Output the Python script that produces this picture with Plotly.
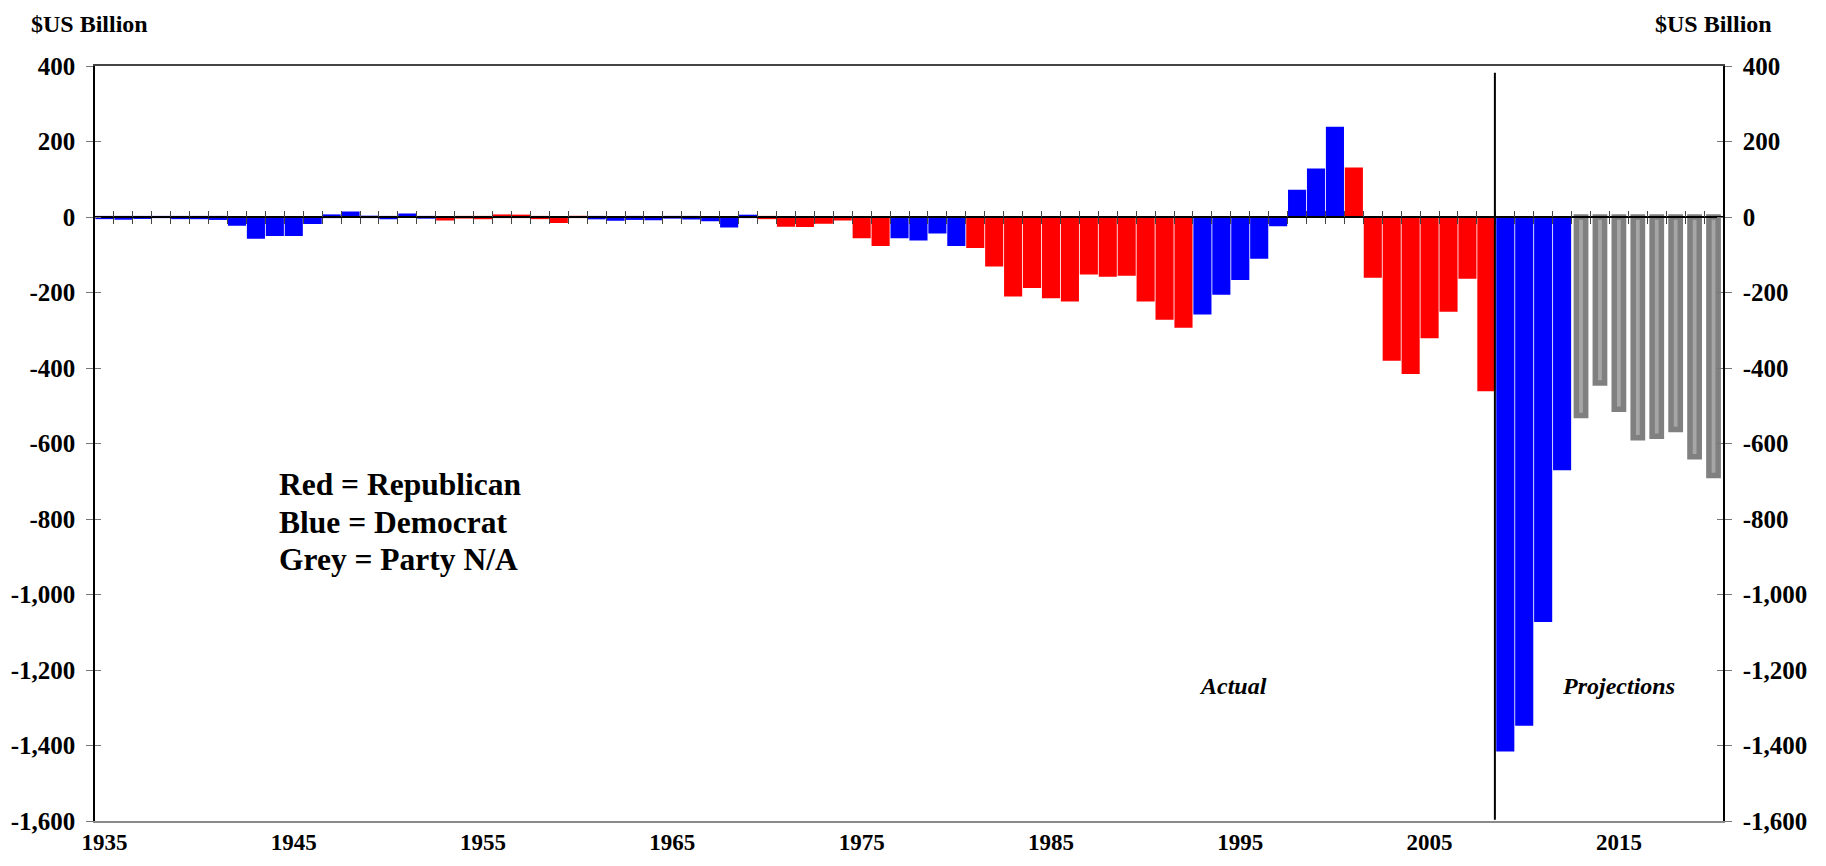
import plotly.graph_objects as go

# ---------------- data ----------------
years = list(range(1935, 2021))
balance = [
    -2.8, -4.3, -2.2, -0.1, -2.8, -2.9, -4.9, -20.5, -54.6, -47.6,      # 1935-1944
    -47.6, -15.9, 4.0, 11.8, 0.6, -3.1, 6.1, -1.5, -6.5, -1.2,          # 1945-1954
    -3.0, 3.9, 3.4, -2.8, -12.8, 0.3, -3.3, -7.1, -4.8, -5.9,           # 1955-1964
    -1.4, -3.7, -8.6, -25.2, 3.2, -2.8, -23.0, -23.4, -14.9, -6.1,      # 1965-1974
    -53.2, -73.7, -53.7, -59.2, -40.7, -73.8, -79.0, -128.0, -207.8, -185.4,  # 1975-1984
    -212.3, -221.2, -149.7, -155.2, -152.6, -221.0, -269.2, -290.3, -255.1, -203.2,  # 1985-1994
    -164.0, -107.4, -21.9, 69.3, 125.6, 236.2, 128.2, -157.8, -377.6, -412.7,  # 1995-2004
    -318.3, -248.2, -160.7, -458.6, -1412.7, -1345.0, -1070.0, -668.0, -526.0, -440.0,  # 2005-2014
    -509.0, -585.0, -581.0, -563.0, -635.0, -685.0,                      # 2015-2020
]
party = (
    ["D"] * 18 +          # 1935-1952
    ["R"] * 8 +           # 1953-1960
    ["D"] * 9 +           # 1961-1969
    ["R"] * 7 +           # 1970-1976
    ["D"] * 4 +           # 1977-1980
    ["R"] * 12 +          # 1981-1992
    ["D"] * 8 +           # 1993-2000
    ["R"] * 8 +           # 2001-2008
    ["D"] * 4 +           # 2009-2012
    ["N"] * 8             # 2013-2020
)
last_actual_year = 2008
x_tick_years = [1935, 1945, 1955, 1965, 1975, 1985, 1995, 2005, 2015]
y_tick_vals = [400, 200, 0, -200, -400, -600, -800, -1000, -1200, -1400, -1600]
y_tick_text = ["400", "200", "0", "-200", "-400", "-600", "-800", "-1,000",
               "-1,200", "-1,400", "-1,600"]
legend_lines = ["Red = Republican", "Blue = Democrat", "Grey = Party N/A"]
unit_label = "$US Billion"

# ---------------- style ----------------
FONT = "Liberation Serif"
party_colors = {"R": "#ff0000", "D": "#0000ff"}
xr = [years[0] - 0.5, years[-1] + 0.5]
yr = [y_tick_vals[-1], y_tick_vals[0]]

act_x = [y for y, p in zip(years, party) if p != "N"]
act_v = [v for v, p in zip(balance, party) if p != "N"]
act_c = [party_colors[p] for p in party if p != "N"]
proj_x = [y for y, p in zip(years, party) if p == "N"]
proj_v = [v for v, p in zip(balance, party) if p == "N"]

fig = go.Figure()
fig.add_trace(go.Bar(x=act_x, y=act_v, width=0.84,
                     marker=dict(color=act_c, line=dict(width=2.2, color=act_c)),
                     showlegend=False, hoverinfo="x+y"))
fig.add_trace(go.Bar(x=proj_x, y=proj_v, width=0.49,
                     marker=dict(color="#a6a6a6", line=dict(color="#808080", width=5.5)),
                     showlegend=False, hoverinfo="x+y"))

# dummy traces to register helper axes
for xa, ya in [("x2", "y"), ("x3", "y"), ("x4", "y"), ("x", "y2"), ("x", "y3"), ("x", "y4")]:
    fig.add_trace(go.Scatter(x=[None], y=[None], xaxis=xa, yaxis=ya,
                             showlegend=False, hoverinfo="skip"))

ytickfont = dict(family=FONT, size=25, color="black", weight="bold")
xtickfont = dict(family=FONT, size=23, color="black", weight="bold")
boundaries = [y + 0.5 for y in years[:-1]]
zero_pos = (0 - yr[0]) / (yr[1] - yr[0])

fig.update_layout(
    width=1810, height=850,
    margin=dict(l=87, r=95, t=58, b=37, autoexpand=False),
    paper_bgcolor="white", plot_bgcolor="white",
    barmode="overlay",
    xaxis=dict(range=xr, tickvals=x_tick_years, ticks="", showgrid=False, zeroline=False,
               showline=True, linecolor="#8a8a8a", linewidth=1.5, tickfont=xtickfont,
               automargin=False, ticklabelstandoff=0),
    xaxis2=dict(range=xr, overlaying="x", side="top", showline=True, linecolor="#444",
                linewidth=1.5, showticklabels=False, ticks="", showgrid=False, zeroline=False),
    xaxis3=dict(range=xr, overlaying="x", anchor="free", position=zero_pos, showline=True,
                linecolor="black", linewidth=1.5, tickvals=boundaries, ticks="outside",
                ticklen=6, tickcolor="#444", tickwidth=1, showticklabels=False,
                showgrid=False, zeroline=False),
    xaxis4=dict(range=xr, overlaying="x", anchor="free", position=zero_pos, showline=False,
                tickvals=boundaries, ticks="inside", ticklen=6, tickcolor="#444", tickwidth=1,
                showticklabels=False, showgrid=False, zeroline=False),
    yaxis=dict(range=yr, tickvals=y_tick_vals, ticktext=y_tick_text, ticks="outside",
               ticklen=7, tickcolor="#777", showline=True, linecolor="black", linewidth=1.5,
               showgrid=False, zeroline=False, tickfont=ytickfont, ticklabelstandoff=6,
               automargin=False),
    yaxis2=dict(range=yr, overlaying="y", side="right", tickvals=y_tick_vals,
                ticktext=y_tick_text, ticks="outside", ticklen=7, tickcolor="#777",
                showline=True, linecolor="black", linewidth=1.5, showgrid=False,
                zeroline=False, tickfont=ytickfont, ticklabelstandoff=6, automargin=False),
    yaxis3=dict(range=yr, overlaying="y", side="left", tickvals=y_tick_vals, ticks="inside",
                ticklen=6, tickcolor="#777", showticklabels=False, showline=False,
                showgrid=False, zeroline=False),
    yaxis4=dict(range=yr, overlaying="y", side="right", tickvals=y_tick_vals, ticks="inside",
                ticklen=6, tickcolor="#777", showticklabels=False, showline=False,
                showgrid=False, zeroline=False),
)

# divider between actual and projections
fig.add_shape(type="line", xref="x", yref="y",
              x0=last_actual_year + 0.45, x1=last_actual_year + 0.45,
              y0=yr[0] + 3, y1=yr[1] - 18, line=dict(color="black", width=2))

annots = []
for xp in [-0.0405, 0.9572]:
    annots.append(dict(text="<b>" + unit_label + "</b>", xref="paper", yref="paper",
                       x=xp, y=1.0755, xanchor="left", yanchor="top", showarrow=False,
                       font=dict(family=FONT, size=24, color="black")))
for line, yp in zip(legend_lines, [0.4454, 0.3953, 0.3461]):
    annots.append(dict(text="<b>" + line + "</b>", xref="paper", yref="paper",
                       x=0.1118, y=yp, xanchor="left", yanchor="middle", showarrow=False,
                       font=dict(family=FONT, size=31.5, color="black")))
annots.append(dict(text="<b><i>Actual</i></b>", xref="paper", yref="paper",
                   x=0.6991, y=0.1794, xanchor="center", yanchor="middle", showarrow=False,
                   font=dict(family=FONT, size=24, color="black")))
annots.append(dict(text="<b><i>Projections</i></b>", xref="paper", yref="paper",
                   x=0.9357, y=0.1794, xanchor="center", yanchor="middle", showarrow=False,
                   font=dict(family=FONT, size=24, color="black")))
fig.update_layout(annotations=annots)

fig.write_html("out.html")
